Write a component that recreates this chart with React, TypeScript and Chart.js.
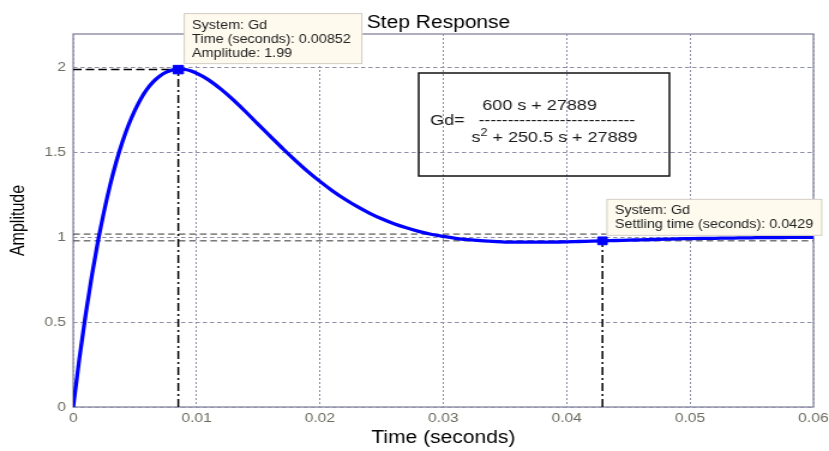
import React, { useEffect, useRef } from 'react';
import { Chart, registerables } from 'chart.js';

Chart.register(...registerables);

// ---- data ----
const timeSeconds = [
  0, 0.0005, 0.001, 0.0015, 0.002, 0.0025, 0.003, 0.0035, 0.004, 0.0045,
  0.005, 0.0055, 0.006, 0.0065, 0.007, 0.0075, 0.008, 0.0085, 0.009,
  0.010, 0.011, 0.012, 0.013, 0.014, 0.015, 0.016, 0.017, 0.018, 0.019,
  0.020, 0.021, 0.022, 0.023, 0.024, 0.025, 0.026, 0.027, 0.028, 0.029,
  0.030, 0.031, 0.032, 0.033, 0.034, 0.035, 0.036, 0.037, 0.038, 0.039,
  0.040, 0.041, 0.042, 0.043, 0.044, 0.045, 0.046, 0.047, 0.048, 0.049,
  0.050, 0.051, 0.052, 0.053, 0.054, 0.055, 0.056, 0.057, 0.058, 0.059,
  0.060,
];
const amplitude = [
  0, 0.285, 0.541, 0.770, 0.974, 1.153, 1.311, 1.448, 1.566, 1.666,
  1.750, 1.820, 1.876, 1.919, 1.951, 1.974, 1.987, 1.992, 1.991,
  1.969, 1.928, 1.873, 1.810, 1.740, 1.667, 1.595, 1.523, 1.455, 1.390,
  1.331, 1.276, 1.227, 1.183, 1.144, 1.110, 1.081, 1.057, 1.036, 1.019,
  1.006, 0.995, 0.987, 0.981, 0.977, 0.973, 0.972, 0.972, 0.972, 0.973,
  0.974, 0.976, 0.978, 0.980, 0.982, 0.984, 0.986, 0.988, 0.990, 0.992,
  0.993, 0.994, 0.995, 0.996, 0.997, 0.998, 0.999, 0.999, 1.000, 1.000,
  1.000,
];
const xTickValues = [0, 0.01, 0.02, 0.03, 0.04, 0.05, 0.06];
const xTickLabels = ['0', '0.01', '0.02', '0.03', '0.04', '0.05', '0.06'];
const yTickValues = [0, 0.5, 1, 1.5, 2];
const yTickLabels = ['0', '0.5', '1', '1.5', '2'];
const xRange = [0, 0.06];
const yRange = [0, 2.2];
const peakTime = 0.00852;
const peakAmplitude = 1.99;
const settlingTime = 0.0429;
const settlingAmplitude = 0.98;
const settlingBand = [0.98, 1.02];

const titleText = 'Step Response';
const xTitleText = 'Time (seconds)';
const yTitleText = 'Amplitude';
const peakInfo = ['System: Gd', 'Time (seconds): 0.00852', 'Amplitude: 1.99'];
const settlingInfo = ['System: Gd', 'Settling time (seconds): 0.0429'];
const eqLabel = 'Gd=';
const eqNumerator = '600 s + 27889';
const eqDenBase = 's';
const eqDenPower = '2';
const eqDenRest = ' + 250.5 s + 27889';
const eqBar = '---------------------------';

const FONT = '"Liberation Sans", Arial, Helvetica, sans-serif';
const CANVAS_W = 691; // drawn narrower, shown stretched to 829px like the reference
const CANVAS_H = 451;

function drawInfo(ctx: CanvasRenderingContext2D, left: number, top: number, w: number, h: number, lines: string[], baselines: number[]) {
  ctx.save();
  ctx.fillStyle = '#fffaee';
  ctx.fillRect(left, top, w, h);
  ctx.strokeStyle = '#d2cec6';
  ctx.lineWidth = 1;
  ctx.strokeRect(left + 0.5, top + 0.5, w - 1, h - 1);
  ctx.fillStyle = '#222';
  ctx.font = `12px ${FONT}`;
  ctx.textAlign = 'left';
  ctx.textBaseline = 'alphabetic';
  lines.forEach((t, i) => ctx.fillText(t, left + 7, top + baselines[i]));
  ctx.restore();
}

const overlayPlugin = {
  id: 'matlabOverlay',
  beforeDatasetsDraw(chart: any) {
    const { ctx, chartArea: a } = chart;
    ctx.save();
    ctx.strokeStyle = '#9494aa';
    ctx.lineWidth = 1.5;
    ctx.setLineDash([]);
    ctx.strokeRect(a.left, a.top, a.right - a.left, a.bottom - a.top);
    ctx.restore();
  },
  afterDatasetsDraw(chart: any) {
    const { ctx, chartArea: a, scales } = chart;
    const xs = scales.x;
    const ys = scales.y;
    ctx.save();
    // title
    ctx.fillStyle = '#000';
    ctx.font = `17.5px ${FONT}`;
    ctx.textAlign = 'center';
    ctx.textBaseline = 'alphabetic';
    ctx.fillText(titleText, (a.left + a.right) / 2 - 4, 28);

    // transfer function box
    const bx = a.left + 288;
    const by = a.top + 39;
    ctx.strokeStyle = '#111';
    ctx.lineWidth = 1.5;
    ctx.strokeRect(bx, by, 209, 103);
    ctx.fillStyle = '#1a1a1a';
    ctx.textAlign = 'left';
    ctx.font = `15px ${FONT}`;
    ctx.fillText(eqNumerator, bx + 53, by + 37);
    ctx.fillText(eqLabel, bx + 9.5, by + 52);
    ctx.font = `14.5px ${FONT}`;
    ctx.fillText(eqBar, bx + 50, by + 52);
    ctx.font = `15px ${FONT}`;
    const dx = bx + 44;
    ctx.fillText(eqDenBase, dx, by + 69);
    const sw = ctx.measureText(eqDenBase).width;
    ctx.font = `10.5px ${FONT}`;
    ctx.fillText(eqDenPower, dx + sw, by + 63);
    const pw = ctx.measureText(eqDenPower).width;
    ctx.font = `15px ${FONT}`;
    ctx.fillText(eqDenRest, dx + sw + pw, by + 69);
    ctx.restore();

    // data tips
    const px = xs.getPixelForValue(peakTime);
    const py = ys.getPixelForValue(peakAmplitude);
    drawInfo(ctx, px + 4.5, py - 56.5, 149, 51, peakInfo, [15.5, 30, 43.5]);
    const sx = xs.getPixelForValue(settlingTime);
    const sy = ys.getPixelForValue(settlingAmplitude);
    drawInfo(ctx, sx + 3.3, sy - 42, 180, 37, settlingInfo, [15, 29]);
  },
};

export default function App() {
  const canvasRef = useRef<HTMLCanvasElement | null>(null);

  useEffect(() => {
    const canvas = canvasRef.current;
    if (!canvas) return;
    const curve = timeSeconds.map((t, i) => ({ x: t, y: amplitude[i] }));
    const guide = { pointRadius: 0, pointHoverRadius: 0, fill: false, tension: 0 };

    const chart = new Chart(canvas, {
      type: 'line',
      data: {
        datasets: [
          {
            label: 'Gd',
            data: curve,
            borderColor: '#0000ff',
            borderWidth: 3.3,
            pointRadius: 0,
            cubicInterpolationMode: 'monotone',
            order: 1,
          },
          {
            label: 'peak',
            data: [{ x: peakTime, y: peakAmplitude }],
            showLine: false,
            pointStyle: 'rect',
            pointRadius: 6,
            backgroundColor: '#0000ff',
            borderColor: '#0000ff',
            order: 0,
          },
          {
            label: 'settling',
            data: [{ x: settlingTime, y: settlingAmplitude }],
            showLine: false,
            pointStyle: 'rect',
            pointRadius: 5.5,
            backgroundColor: '#0000ff',
            borderColor: '#0000ff',
            order: 0,
          },
          {
            label: 'peak-h',
            data: [{ x: xRange[0], y: peakAmplitude }, { x: peakTime, y: peakAmplitude }],
            borderColor: '#000',
            borderWidth: 1.5,
            borderDash: [7, 3.5],
            order: 2,
            ...guide,
          },
          {
            label: 'peak-v',
            data: [{ x: peakTime, y: yRange[0] }, { x: peakTime, y: peakAmplitude }],
            borderColor: '#000',
            borderWidth: 1.5,
            borderDash: [8, 3, 2, 3],
            order: 2,
            ...guide,
          },
          {
            label: 'settle-v',
            data: [{ x: settlingTime, y: yRange[0] }, { x: settlingTime, y: settlingAmplitude }],
            borderColor: '#000',
            borderWidth: 1.5,
            borderDash: [8, 3, 2, 3],
            order: 2,
            ...guide,
          },
          ...settlingBand.map((b) => ({
            label: 'band',
            data: [{ x: xRange[0], y: b }, { x: xRange[1], y: b }],
            borderColor: '#333',
            borderWidth: 1,
            borderDash: [5.5, 3.3],
            order: 2,
            ...guide,
          })),
        ],
      },
      options: {
        animation: false,
        responsive: false,
        devicePixelRatio: 1,
        layout: { padding: { top: 34, right: 13, bottom: 0, left: 0 } },
        plugins: {
          legend: { display: false },
          title: { display: false },
          tooltip: { enabled: false },
        },
        events: [],
        scales: {
          x: {
            type: 'linear',
            min: xRange[0],
            max: xRange[1],
            afterBuildTicks: (s: any) => {
              s.ticks = xTickValues.map((v) => ({ value: v }));
            },
            afterFit: (s: any) => {
              s.height = 44;
              s.paddingLeft = 0;
              s.paddingRight = 0;
            },
            ticks: {
              autoSkip: false,
              maxRotation: 0,
              padding: 4,
              color: '#6c6c60',
              font: { family: FONT, size: 13 },
              callback: (_v: any, i: number) => xTickLabels[i],
            },
            grid: { color: '#8e8ea8', lineWidth: 1, drawTicks: false },
            border: { display: false, dash: [2, 2] },
            title: {
              display: true,
              text: xTitleText,
              color: '#000',
              font: { family: FONT, size: 17.5 },
              padding: { top: 0, bottom: 2 },
            },
          },
          y: {
            type: 'linear',
            min: yRange[0],
            max: yRange[1],
            afterBuildTicks: (s: any) => {
              s.ticks = yTickValues.map((v) => ({ value: v }));
            },
            afterFit: (s: any) => {
              s.width = 61;
              s.paddingTop = 0;
              s.paddingBottom = 0;
            },
            ticks: {
              padding: 6,
              color: '#6c6c60',
              font: { family: FONT, size: 13 },
              callback: (_v: any, i: number) => yTickLabels[i],
            },
            grid: { color: '#8e8ea8', lineWidth: 1, drawTicks: false },
            border: { display: false, dash: [3.5, 2.5] },
            title: {
              display: true,
              text: yTitleText,
              color: '#000',
              font: { family: FONT, size: 16 },
              padding: { top: 6, bottom: 0 },
            },
          },
        },
      },
      plugins: [overlayPlugin],
    } as any);

    return () => chart.destroy();
  }, []);

  return (
    <div style={{ position: 'absolute', left: 0, top: 0, width: 829, height: 451, background: '#fff' }}>
      <canvas
        ref={canvasRef}
        width={CANVAS_W}
        height={CANVAS_H}
        style={{ width: '829px', height: '451px', display: 'block' }}
      />
    </div>
  );
}
